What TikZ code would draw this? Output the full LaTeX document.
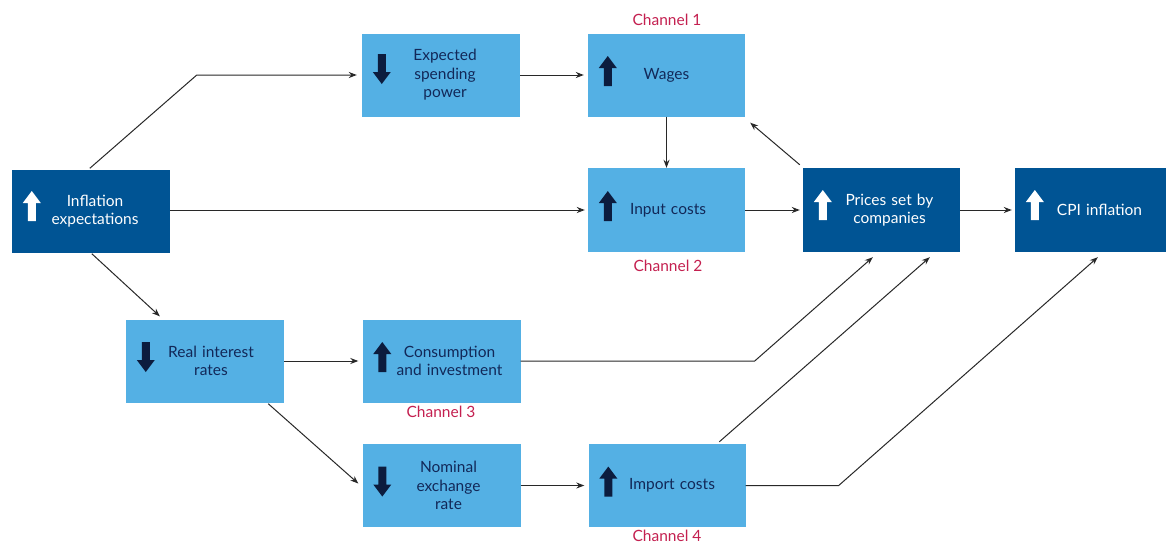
\documentclass[tikz,border=0pt]{standalone}
\usepackage{fontspec}
\setmainfont{Lato}
\usetikzlibrary{calc,arrows.meta}
\definecolor{darkbox}{RGB}{0,84,148}
\definecolor{lightbox}{RGB}{84,176,228}
\definecolor{navytext}{RGB}{18,40,88}
\definecolor{chan}{RGB}{196,32,80}
\definecolor{linec}{RGB}{40,40,40}
\newcommand{\tsh}[1]{\hspace*{#1pt}}
\tikzset{
  box/.style={rectangle, inner sep=0pt, minimum width=158, minimum height=83,
    align=center, text width=140, font=\fontsize{15.5}{18.5}\selectfont},
  dbox/.style={box, fill=darkbox, text=white},
  lbox/.style={box, fill=lightbox, text=navytext},
  conn/.style={draw=linec, line width=1, -{Stealth[length=8,width=6]}},
  chanlabel/.style={text=chan, inner sep=0pt, font=\fontsize{15.5}{17}\selectfont},
  uparr/.pic={\fill (0,-15) -- (9,-3) -- (4,-3) -- (4,15) -- (-4,15) -- (-4,-3) -- (-9,-3) -- cycle;},
  dnarr/.pic={\fill (0,15) -- (9,3) -- (4,3) -- (4,-15) -- (-4,-15) -- (-4,3) -- (-9,3) -- cycle;}
}
\begin{document}
\begin{tikzpicture}[x=1pt,y=-1pt]
\useasboundingbox (0,0) rectangle (1166,544);
\fill[white] (0,0) rectangle (1166,544);
% nodes
\node[dbox, minimum height=83] (infl) at (91,211) {\tsh{8}Inflation\\\tsh{8}expectations};
\node[lbox] (exp) at (441,75) {\tsh{8}Expected\\\tsh{8}spending\\\tsh{8}power};
\node[lbox, minimum width=157] (wag) at (666.5,75) {Wages};
\node[lbox, minimum width=157, minimum height=84] (inp) at (666.5,210) {\tsh{3}Input costs};
\node[dbox, minimum width=157, minimum height=84] (pri) at (881.5,210) {\tsh{16}Prices set by\\\tsh{16}companies};
\node[dbox, minimum width=157, minimum height=84] (cpi) at (1093.5,210) {\tsh{12}CPI inflation};
\node[lbox] (real) at (205,361) {\tsh{12}Real interest\\\tsh{12}rates};
\node[lbox] (cons) at (441.5,361) {\tsh{16}Consumption\\\tsh{16}and investment};
\node[lbox] (nom) at (441.5,485.5) {\tsh{14}Nominal\\\tsh{14}exchange\\\tsh{14}rate};
\node[lbox, minimum width=157] (imp) at (667,485.5) {\tsh{10}Import costs};
% channel labels
\node[chanlabel] (c1) at (667,20) {Channel 1};
\node[chanlabel] (c2) at (668,266) {Channel 2};
\node[chanlabel] (c3) at (441,412) {Channel 3};
\node[chanlabel] (c4) at (667,536) {Channel 4};
% arrow icons
\pic[white] at ($(infl.west)+(20,-5)$) {uparr};
\pic[white] at ($(pri.west)+(20,-5)$) {uparr};
\pic[white] at ($(cpi.west)+(20,-5)$) {uparr};
\pic[navytext!70!black] at ($(exp.west)+(20,-6)$) {dnarr};
\pic[navytext!70!black] at ($(wag.west)+(20,-4)$) {uparr};
\pic[navytext!70!black] at ($(inp.west)+(20,-4)$) {uparr};
\pic[navytext!70!black] at ($(real.west)+(20,-4)$) {dnarr};
\pic[navytext!70!black] at ($(cons.west)+(20,-4)$) {uparr};
\pic[navytext!70!black] at ($(nom.west)+(20,-4)$) {dnarr};
\pic[navytext!70!black] at ($(imp.west)+(20,-4)$) {uparr};
% connectors
\draw[conn] ($(infl.north west)+(78,-1)$) -- ($(exp.west)+(-165,0)$) -- ($(exp.west)+(-5,0)$);
\draw[conn] (exp.east) -- ($(wag.west)+(-4,0)$);
\draw[conn] (wag.south) -- (inp.north);
\draw[conn] (infl.east |- inp.west) -- ($(inp.west)+(-3,0)$);
\draw[conn] (inp.east) -- ($(pri.west)+(-3,0)$);
\draw[conn] (pri.east) -- ($(cpi.west)+(-3,0)$);
\draw[conn] ($(pri.north west)+(-3,-3)$) -- ($(wag.south east)+(5,6)$);
\draw[conn] ($(infl.south west)+(80,1)$) -- ($(real.north west)+(34,-3)$);
\draw[conn] (real.east) -- ($(cons.west)+(-4,0)$);
\draw[conn] ($(real.south east)+(-16,1)$) -- ($(nom.west)+(-4,-2)$);
\draw[conn] (cons.east) -- ($(cons.east)+(234,0)$) -- ($(pri.south west)+(70,5)$);
\draw[conn] ($(imp.north west)+(131,-2)$) -- ($(pri.south west)+(127,5)$);
\draw[conn] (nom.east) -- ($(imp.west)+(-4,0)$);
\draw[conn] (imp.east) -- ($(imp.east)+(93,0)$) -- ($(cpi.south west)+(83,5)$);
\end{tikzpicture}
\end{document}
